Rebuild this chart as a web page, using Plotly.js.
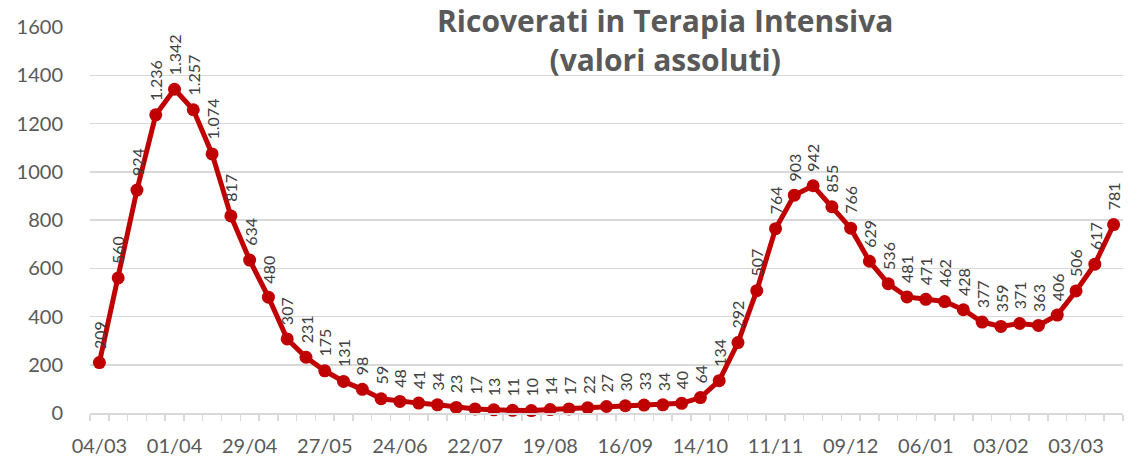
<!DOCTYPE html>
<html>
<head>
<meta charset="utf-8">
<script src="https://cdn.plot.ly/plotly-3.0.1.min.js"></script>
<style>html,body{margin:0;padding:0;background:#fff;}#chart{width:1138px;height:459px;}</style>
</head>
<body>
<div id="chart"></div>
<script>
const dates = ["04/03","11/03","18/03","25/03","01/04","08/04","15/04","22/04","29/04","06/05","13/05","20/05","27/05","03/06","10/06","17/06","24/06","01/07","08/07","15/07","22/07","29/07","05/08","12/08","19/08","26/08","02/09","09/09","16/09","23/09","30/09","07/10","14/10","21/10","28/10","04/11","11/11","18/11","25/11","02/12","09/12","16/12","23/12","30/12","06/01","13/01","20/01","27/01","03/02","10/02","17/02","24/02","03/03","10/03","17/03"];
const ricoverati = [209,560,924,1236,1342,1257,1074,817,634,480,307,231,175,131,98,59,48,41,34,23,17,13,11,10,14,17,22,27,30,33,34,40,64,134,292,507,764,903,942,855,766,629,536,481,471,462,428,377,359,371,363,406,506,617,781];
const yTicks = [0,200,400,600,800,1000,1200,1400,1600];
const titleText = "Ricoverati in Terapia Intensiva<br>(valori assoluti)";

const xIdx = dates.map((d, i) => i);
const tickIdx = xIdx.filter(i => i % 4 === 0);
const tickLbl = tickIdx.map(i => dates[i]);
function fmt(v){ return String(v).replace(/\B(?=(\d{3})+(?!\d))/g, "."); }

const FONT = "Lato, 'Open Sans', sans-serif";
const annotations = ricoverati.map((v, i) => ({
  x: i, y: v, xref: 'x', yref: 'y',
  text: fmt(v), textangle: -90, showarrow: false,
  xanchor: 'center', yanchor: 'bottom', yshift: 12,
  font: {family: FONT, size: 16, color: '#404040'}
}));
annotations.push({
  xref: 'paper', yref: 'paper', x: 0.5566, y: 0.966,
  xanchor: 'center', yanchor: 'middle', showarrow: false,
  text: '<b>' + titleText + '</b>',
  font: {family: "'Open Sans', sans-serif", size: 30, color: '#595959'}
});

const trace = {
  x: xIdx, y: ricoverati, type: 'scatter', mode: 'lines+markers',
  line: {color: '#C00000', width: 5},
  marker: {color: '#C00000', size: 13},
  hoverinfo: 'x+y', cliponaxis: false
};

const layout = {
  width: 1138, height: 459,
  margin: {l: 90, r: 15, t: 27, b: 46},
  paper_bgcolor: '#fff', plot_bgcolor: '#fff',
  showlegend: false,
  xaxis: {
    range: [-0.5, 54.5], fixedrange: true,
    tickmode: 'array', tickvals: tickIdx, ticktext: tickLbl,
    ticks: 'outside', ticklen: 14, tickcolor: 'rgba(0,0,0,0)',
    showgrid: false, zeroline: false,
    showline: true, linecolor: '#d9d9d9', linewidth: 1.5,
    tickfont: {family: FONT, size: 20, color: '#595959'},
    minor: {tick0: -0.5, dtick: 1, ticks: 'outside', ticklen: 6, tickcolor: '#d9d9d9', tickwidth: 1.5, showgrid: false}
  },
  yaxis: {
    range: [0, 1600], fixedrange: true,
    tickmode: 'array', tickvals: yTicks,
    ticks: 'outside', ticklen: 22, tickcolor: 'rgba(0,0,0,0)',
    showgrid: true, gridcolor: '#d9d9d9', gridwidth: 1.5,
    zeroline: false, showline: false,
    tickfont: {family: FONT, size: 20, color: '#595959'}
  },
  annotations: annotations
};

Plotly.newPlot('chart', [trace], layout, {displayModeBar: false, staticPlot: true});
</script>
</body>
</html>
